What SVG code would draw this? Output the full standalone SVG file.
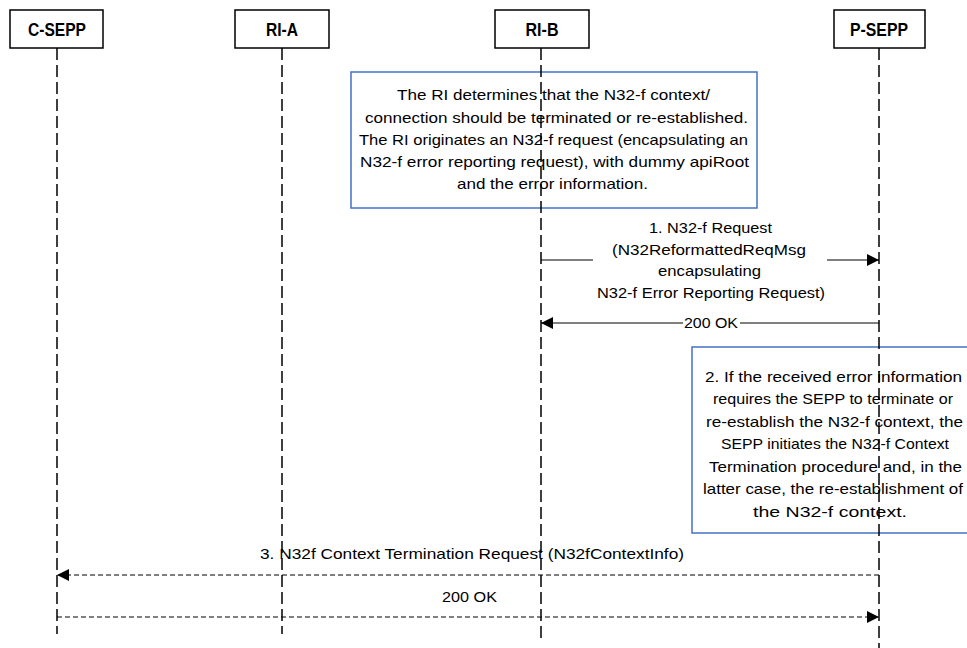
<svg xmlns="http://www.w3.org/2000/svg" width="967" height="648" viewBox="0 0 967 648">
<style>
  .hdr { fill: #fff; stroke: #000; stroke-width: 1.5; }
  .hdrtxt { font-family: "Liberation Sans", Arial, sans-serif; font-weight: bold; font-size: 18px; fill: #000; text-anchor: middle; }
  .life { stroke: #000; stroke-width: 1.5; stroke-dasharray: 12 5; fill: none; }
  .note { fill: #fff; stroke: #4472C4; stroke-width: 1.5; }
  .txt { font-family: "Liberation Sans", Arial, sans-serif; font-size: 15px; fill: #000; }
  .msg { stroke: #000; stroke-width: 1; fill: none; }
  .dmsg { stroke: #000; stroke-width: 1; fill: none; stroke-dasharray: 5 3; }
</style>
<defs>
  <marker id="arr" viewBox="0 0 10 10" refX="10" refY="5" markerWidth="13" markerHeight="12" markerUnits="userSpaceOnUse" orient="auto">
    <path d="M0,0 L10,5 L0,10 Z" fill="#000"/>
  </marker>
</defs>
<rect width="967" height="648" fill="#fff"/>

<g id="C-SEPP">
  <rect class="hdr" x="10" y="10" width="93" height="38"/>
  <text class="hdrtxt" x="57" y="36" textLength="58" lengthAdjust="spacingAndGlyphs">C-SEPP</text>
</g>
<g id="RI-A">
  <rect class="hdr" x="235" y="10" width="94" height="38"/>
  <text class="hdrtxt" x="282" y="36" textLength="32" lengthAdjust="spacingAndGlyphs">RI-A</text>
</g>
<g id="RI-B">
  <rect class="hdr" x="495" y="10" width="94" height="38"/>
  <text class="hdrtxt" x="542" y="36" textLength="33" lengthAdjust="spacingAndGlyphs">RI-B</text>
</g>
<g id="P-SEPP">
  <rect class="hdr" x="834" y="10" width="91" height="38"/>
  <text class="hdrtxt" x="879" y="36" textLength="58" lengthAdjust="spacingAndGlyphs">P-SEPP</text>
</g>

<g id="note1">
  <rect class="note" x="351" y="72" width="406" height="136"/>
  <text class="txt" x="397" y="100" textLength="313" lengthAdjust="spacingAndGlyphs">The  RI determines that the N32-f context/</text>
  <text class="txt" x="365" y="123" textLength="383" lengthAdjust="spacingAndGlyphs">connection should be terminated or re-established.</text>
  <text class="txt" x="359" y="145" textLength="389" lengthAdjust="spacingAndGlyphs">The RI originates an N32-f request (encapsulating an</text>
  <text class="txt" x="360" y="167" textLength="389" lengthAdjust="spacingAndGlyphs">N32-f error reporting request), with dummy apiRoot</text>
  <text class="txt" x="457" y="189" textLength="191" lengthAdjust="spacingAndGlyphs">and the error information.</text>
</g>

<g id="note2">
  <rect class="note" x="692" y="347" width="290" height="186"/>
  <text class="txt" x="705" y="382" textLength="257" lengthAdjust="spacingAndGlyphs">2. If the received error information</text>
  <text class="txt" x="713" y="404" textLength="240" lengthAdjust="spacingAndGlyphs">requires the SEPP to terminate or</text>
  <text class="txt" x="706" y="427" textLength="257" lengthAdjust="spacingAndGlyphs">re-establish the N32-f context, the</text>
  <text class="txt" x="721" y="449" textLength="228" lengthAdjust="spacingAndGlyphs">SEPP initiates the N32-f Context</text>
  <text class="txt" x="709" y="472" textLength="253" lengthAdjust="spacingAndGlyphs">Termination procedure and, in the</text>
  <text class="txt" x="703" y="494" textLength="260" lengthAdjust="spacingAndGlyphs">latter case, the re-establishment of</text>
  <text class="txt" x="753" y="517" textLength="154" lengthAdjust="spacingAndGlyphs">the N32-f context.</text>
</g>

<g id="lifelines">
  <line class="life" x1="57" y1="48" x2="57" y2="634"/>
  <line class="life" x1="282" y1="48" x2="282" y2="634"/>
  <line class="life" x1="541" y1="48" x2="541" y2="640"/>
  <line class="life" x1="879" y1="48" x2="879" y2="648"/>
</g>

<g id="connectors">
  <line class="msg" x1="541" y1="260" x2="593" y2="260"/>
  <line class="msg" x1="827" y1="260" x2="879" y2="260" marker-end="url(#arr)"/>
  <text class="txt" x="649" y="233" textLength="123" lengthAdjust="spacingAndGlyphs">1. N32-f Request</text>
  <text class="txt" x="612" y="255" textLength="194" lengthAdjust="spacingAndGlyphs">(N32ReformattedReqMsg</text>
  <text class="txt" x="658" y="276" textLength="103" lengthAdjust="spacingAndGlyphs">encapsulating</text>
  <text class="txt" x="597" y="298" textLength="228" lengthAdjust="spacingAndGlyphs">N32-f Error Reporting Request)</text>

  <line class="msg" x1="879" y1="323" x2="740" y2="323"/>
  <line class="msg" x1="683" y1="323" x2="541" y2="323" marker-end="url(#arr)"/>
  <text class="txt" x="684" y="328" textLength="54" lengthAdjust="spacingAndGlyphs">200 OK</text>

  <line class="dmsg" x1="879" y1="575" x2="57" y2="575" marker-end="url(#arr)"/>
  <text class="txt" x="260" y="559" textLength="424" lengthAdjust="spacingAndGlyphs">3. N32f Context Termination Request (N32fContextInfo)</text>

  <line class="dmsg" x1="57" y1="617" x2="879" y2="617" marker-end="url(#arr)"/>
  <text class="txt" x="442" y="602" textLength="55" lengthAdjust="spacingAndGlyphs">200 OK</text>
</g>
</svg>
